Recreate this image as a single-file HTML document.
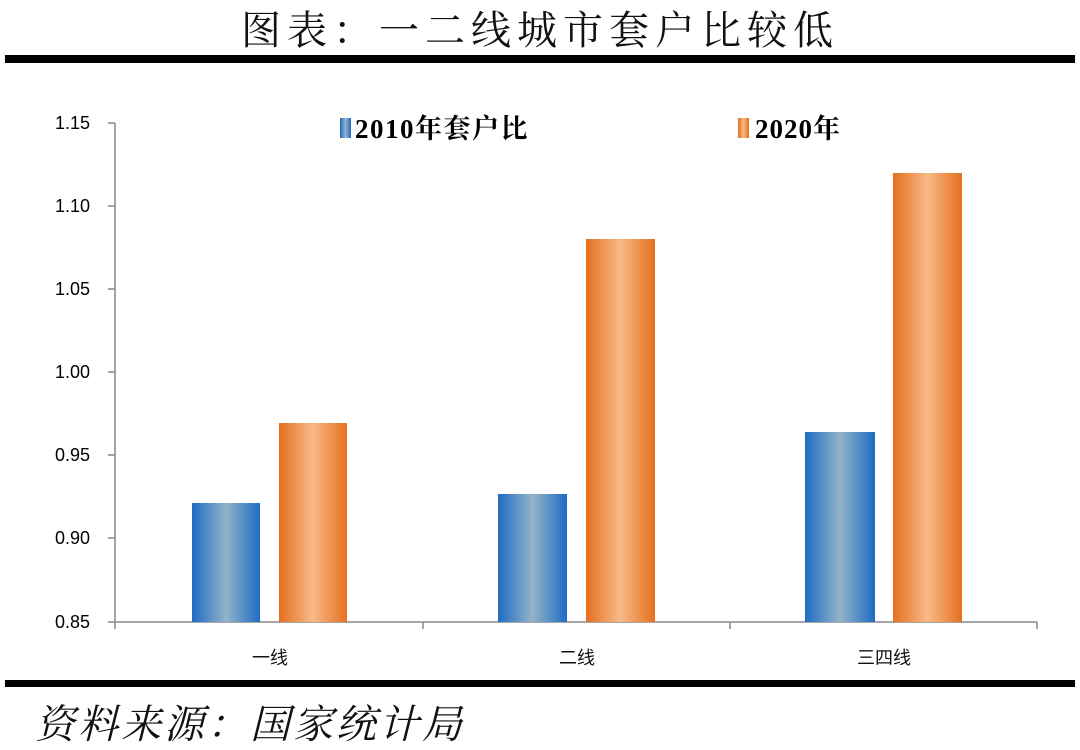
<!DOCTYPE html>
<html><head><meta charset="utf-8"><style>
html,body{margin:0;padding:0;background:#fff;}
svg{display:block}
</style></head><body>
<svg width="1080" height="750" xmlns="http://www.w3.org/2000/svg">
<defs>
<linearGradient id="b" x1="0" x2="1" y1="0" y2="0">
<stop offset="0" stop-color="#1f6cc4"/><stop offset="0.5" stop-color="#93b3c8"/><stop offset="1" stop-color="#1f6cc4"/></linearGradient>
<linearGradient id="o" x1="0" x2="1" y1="0" y2="0">
<stop offset="0" stop-color="#e4701c"/><stop offset="0.5" stop-color="#f9b98a"/><stop offset="1" stop-color="#e4701c"/></linearGradient>
</defs>
<text x="540" y="44" text-anchor="middle" font-family="Noto Serif CJK SC, serif" font-size="40" letter-spacing="6" fill="#111">图表：一二线城市套户比较低</text>
<rect x="5" y="55" width="1070" height="8" fill="#000"/>
<rect x="5" y="680" width="1070" height="7" fill="#000"/>
<text x="35" y="738" font-family="Noto Serif CJK SC, serif" font-size="40" letter-spacing="3" font-style="italic" fill="#111">资料来源：国家统计局</text>
<g font-family="Liberation Sans, sans-serif" font-size="18" fill="#000" text-anchor="end">
<text x="90" y="129">1.15</text><text x="90" y="212">1.10</text><text x="90" y="295">1.05</text><text x="90" y="378">1.00</text><text x="90" y="461">0.95</text><text x="90" y="544">0.90</text><text x="90" y="628">0.85</text>
</g>
<g stroke="#888" stroke-width="1.5" fill="none">
<path d="M115 123V622H1037"/>
<path d="M108 123H115M108 206H115M108 289H115M108 372H115M108 455H115M108 538H115M108 622H115"/>
<path d="M115 622V629M423 622V629M730 622V629M1037 622V629"/>
</g>
<rect x="192" y="503" width="68" height="119" fill="url(#b)"/>
<rect x="279" y="423" width="68" height="199" fill="url(#o)"/>
<rect x="498" y="494" width="69" height="128" fill="url(#b)"/>
<rect x="586" y="239" width="69" height="383" fill="url(#o)"/>
<rect x="805" y="432" width="70" height="190" fill="url(#b)"/>
<rect x="893" y="173" width="69" height="449" fill="url(#o)"/>
<g font-family="Noto Sans CJK SC, sans-serif" font-size="18" fill="#111" text-anchor="middle">
<text x="270" y="664">一线</text><text x="577" y="664">二线</text><text x="884" y="664">三四线</text>
</g>
<rect x="340" y="118" width="11" height="20" fill="url(#b)"/>
<text x="355" y="138" font-family="Liberation Serif, Noto Serif CJK SC, serif" font-weight="bold" font-size="27" letter-spacing="1.5" fill="#000">2010年套户比</text>
<rect x="738" y="118" width="11" height="20" fill="url(#o)"/>
<text x="755" y="138" font-family="Liberation Serif, Noto Serif CJK SC, serif" font-weight="bold" font-size="27" letter-spacing="1" fill="#000">2020年</text>
</svg>
</body></html>
